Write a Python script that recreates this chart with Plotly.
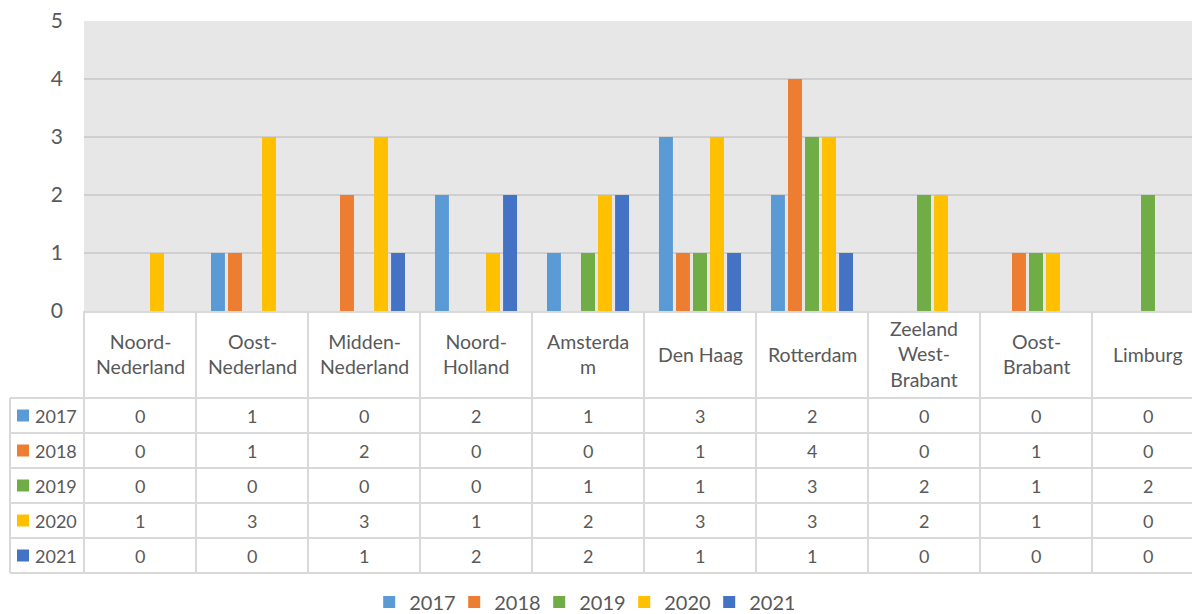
import plotly.graph_objects as go

regions = ["Noord-<br>Nederland", "Oost-<br>Nederland", "Midden-<br>Nederland", "Noord-<br>Holland",
           "Amsterda<br>m", "Den Haag", "Rotterdam", "Zeeland<br>West-<br>Brabant", "Oost-<br>Brabant", "Limburg"]
years = ["2017", "2018", "2019", "2020", "2021"]
v2017 = [0, 1, 0, 2, 1, 3, 2, 0, 0, 0]
v2018 = [0, 1, 2, 0, 0, 1, 4, 0, 1, 0]
v2019 = [0, 0, 0, 0, 1, 1, 3, 2, 1, 2]
v2020 = [1, 3, 3, 1, 2, 3, 3, 2, 1, 0]
v2021 = [0, 0, 1, 2, 2, 1, 1, 0, 0, 0]
series = [v2017, v2018, v2019, v2020, v2021]
colors = ["#5B9BD5", "#ED7D31", "#70AD47", "#FFC000", "#4472C4"]
y_ticks = [0, 1, 2, 3, 4, 5]

W, H = 1192, 614
FONT = "Lato"
TXT = "#595959"
GRID = "#d9d9d9"

# geometry (pixels)
plot_left, plot_top, plot_bottom = 84, 21, 311
col_w = 112
visible_cols = (W - plot_left) / col_w
row_edges = [398, 433, 468, 503, 538, 573]
leg_left = 10

n = len(regions)
idx = list(range(n))

fig = go.Figure()
for yr, vals, c in zip(years, series, colors):
    fig.add_trace(go.Bar(x=idx, y=vals, name=yr, marker=dict(color=c, line=dict(width=0))))

def px_to_paper_x(px):
    return px / W

def px_to_paper_y(py):
    return (H - py) / H

shapes = []
line = dict(color=GRID, width=2)
for i in range(n + 1):
    xp = plot_left + i * col_w
    if xp > W:
        continue
    shapes.append(dict(type="line", xref="paper", yref="paper",
                       x0=px_to_paper_x(xp), x1=px_to_paper_x(xp),
                       y0=px_to_paper_y(plot_bottom), y1=px_to_paper_y(row_edges[-1]), line=line))
shapes.append(dict(type="line", xref="paper", yref="paper",
                   x0=px_to_paper_x(leg_left), x1=px_to_paper_x(leg_left),
                   y0=px_to_paper_y(row_edges[0]), y1=px_to_paper_y(row_edges[-1]), line=line))
for ry in row_edges:
    shapes.append(dict(type="line", xref="paper", yref="paper",
                       x0=px_to_paper_x(leg_left), x1=1,
                       y0=px_to_paper_y(ry), y1=px_to_paper_y(ry), line=line))

annotations = []
for i, r in enumerate(regions):
    annotations.append(dict(x=i, xref="x", y=px_to_paper_y((plot_bottom + row_edges[0]) / 2), yref="paper",
                            text=r, showarrow=False, font=dict(family=FONT, size=19.5, color=TXT),
                            xanchor="center", yanchor="middle", align="center"))
for k, (yr, vals, c) in enumerate(zip(years, series, colors)):
    yc = px_to_paper_y((row_edges[k] + row_edges[k + 1]) / 2)
    for i, v in enumerate(vals):
        annotations.append(dict(x=i, xref="x", y=yc, yref="paper", text=str(v), showarrow=False,
                                font=dict(family=FONT, size=18, color=TXT),
                                xanchor="center", yanchor="middle"))
    annotations.append(dict(x=px_to_paper_x(33), xref="paper", y=yc, yref="paper", text=yr, showarrow=False,
                            font=dict(family=FONT, size=18, color=TXT), xanchor="left", yanchor="middle"))
    shapes.append(dict(type="rect", xref="paper", yref="paper",
                       x0=px_to_paper_x(17), x1=px_to_paper_x(29),
                       y0=yc - 6 / H, y1=yc + 6 / H, fillcolor=c, line=dict(width=0)))

fig.update_layout(
    width=W, height=H,
    margin=dict(l=0, r=0, t=0, b=0, autoexpand=False),
    paper_bgcolor="white",
    plot_bgcolor="#e7e7e7",
    barmode="group",
    bargap=0.24,
    bargroupgap=0.18,
    font=dict(family=FONT, color=TXT),
    showlegend=True,
    legend=dict(orientation="h", x=0.488, xanchor="center", y=px_to_paper_y(602), yanchor="middle",
                font=dict(family=FONT, size=20, color=TXT), itemwidth=30, tracegroupgap=0,
                entrywidth=40, entrywidthmode="pixels",
                bgcolor="rgba(0,0,0,0)"),
    xaxis=dict(domain=[plot_left / W, 1], range=[-0.5, -0.5 + visible_cols],
               showticklabels=False, showgrid=False, zeroline=False,
               showline=True, linecolor=GRID, linewidth=2, ticks=""),
    yaxis=dict(domain=[px_to_paper_y(plot_bottom), px_to_paper_y(plot_top)], range=[0, 5],
               tickvals=y_ticks, showgrid=True, gridcolor="#cfcfcf", gridwidth=2,
               zeroline=False, showline=False, ticks="",
               tickfont=dict(family=FONT, size=21, color=TXT), ticklabelstandoff=20),
    shapes=shapes,
    annotations=annotations,
)

fig.write_html("out.html", config={"displayModeBar": False},
               post_script="document.body.style.margin='0';document.body.style.overflow='hidden';")
